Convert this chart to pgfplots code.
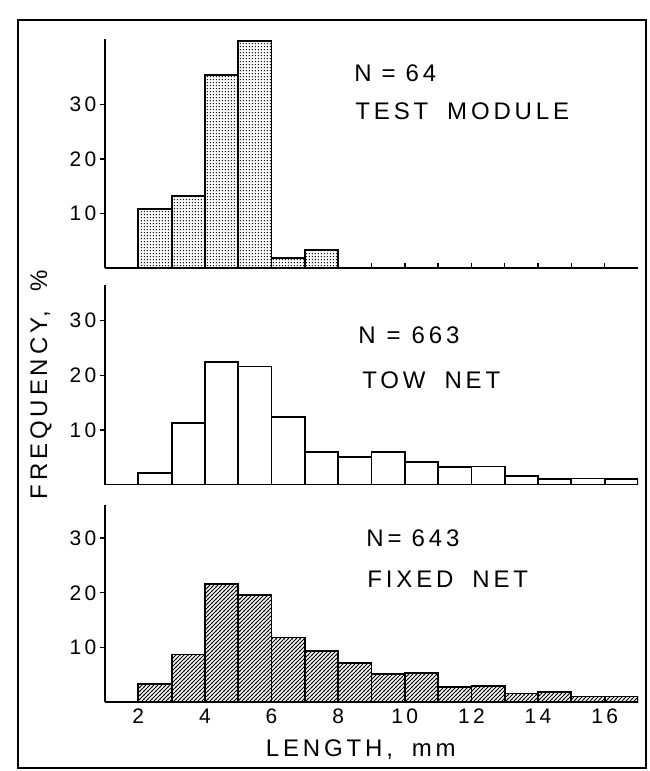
\documentclass[border=0pt]{standalone}
\usepackage{fontspec}
\setmainfont{Liberation Sans}
\newfontfamily\spaced[LetterSpace=16,WordSpace=1.8]{Liberation Sans}
\usepackage{pgfplots}
\pgfplotsset{compat=1.18}
\usetikzlibrary{patterns}

\pgfdeclarepatternformonly{fhatch}{\pgfqpoint{-0.5pt}{-0.5pt}}{\pgfqpoint{2.5pt}{2.5pt}}{\pgfqpoint{2pt}{2pt}}{%
  \pgfsetlinewidth{0.5pt}%
  \pgfpathmoveto{\pgfqpoint{-0.2pt}{-0.2pt}}%
  \pgfpathlineto{\pgfqpoint{2.2pt}{2.2pt}}%
  \pgfusepath{stroke}}
\pgfdeclarepatternformonly{fdots}{\pgfqpoint{0pt}{0pt}}{\pgfqpoint{1.4pt}{1.4pt}}{\pgfqpoint{1.4pt}{1.4pt}}{%
  \pgfpathcircle{\pgfqpoint{0.7pt}{0.7pt}}{0.4pt}%
  \pgfusepath{fill}}

\pgfplotsset{
  panel/.style={
    scale only axis,
    width=266.5pt,
    xmin=1, xmax=17, ymin=0,
    axis x line*=bottom, axis y line*=left,
    axis line style={line width=0.9pt},
    ytick={10,20,30},
    xtick={2,...,16},
    xtick align=inside, ytick align=outside,
    major tick length=2.6pt,
    tick style={black, line width=0.7pt},
    tick label style={font=\spaced\fontsize{10.5}{12}\selectfont},
    /pgf/number format/assume math mode=true,
    yticklabel style={inner sep=1.5pt},
    xticklabels={},
    anchor=south west,
  },
  bars/.style={ybar interval, draw=black, line width=0.9pt, fill=white},
}

\begin{document}
\begin{tikzpicture}
\useasboundingbox (0,0) rectangle (324.5pt,-385.5pt);
\draw[line width=1pt] (9pt,-10pt) rectangle (323pt,-384pt);

% TEST MODULE
\begin{axis}[panel, at={(52.5pt,-134pt)}, height=114.66pt, ymax=42]
\addplot[bars, postaction={pattern=fdots}] coordinates {
(2,10.8) (3,13.2) (4,35.4) (5,41.6) (6,1.9) (7,3.3) (8,3.3)};
\end{axis}

% TOW NET
\begin{axis}[panel, at={(52.5pt,-242.25pt)}, height=99.9pt, ymax=36.6,
  ylabel={\spaced\fontsize{12}{14}\selectfont FREQUENCY, \%},
  ylabel style={at={(axis description cs:-0.12,0.5)}, anchor=center}]
\addplot[bars] coordinates {
(2,2.05) (3,11.2) (4,22.5) (5,21.6) (6,12.3) (7,6.0) (8,5.1) (9,6.0)
(10,4.1) (11,3.2) (12,3.3) (13,1.5) (14,1.0) (15,1.1) (16,1.0) (17,1.0)};
\end{axis}

% FIXED NET
\begin{axis}[panel, at={(52.5pt,-351pt)}, height=98.3pt, ymax=36,
  xticklabels={2,,4,,6,,8,,10,,12,,14,,16},
  xlabel={\spaced\fontsize{12}{14}\selectfont LENGTH, mm},
  xlabel style={at={(axis description cs:0.48,0)}, anchor=center, yshift=-24pt}]
\addplot[bars, postaction={pattern=fhatch}] coordinates {
(2,3.3) (3,8.7) (4,21.6) (5,19.6) (6,11.8) (7,9.35) (8,7.1) (9,5.2)
(10,5.3) (11,2.8) (12,2.9) (13,1.55) (14,1.8) (15,1.0) (16,1.0) (17,1.0)};
\end{axis}

\begin{scope}[every node/.style={anchor=west, inner sep=0pt, font=\spaced\fontsize{12}{14}\selectfont}]
\node at (177pt,-36.5pt) {N\hspace{5pt}=\hspace{5pt}64};
\node at (177.5pt,-55.5pt) {TEST MODULE};
\node at (179pt,-167.5pt) {N\hspace{5.5pt}=\hspace{5.5pt}663};
\node at (181pt,-190pt) {TOW NET};
\node at (183pt,-269pt) {N\hspace{2pt}=\hspace{5pt}643};
\node at (183.5pt,-289.5pt) {FIXED NET};
\end{scope}
\end{tikzpicture}
\end{document}
